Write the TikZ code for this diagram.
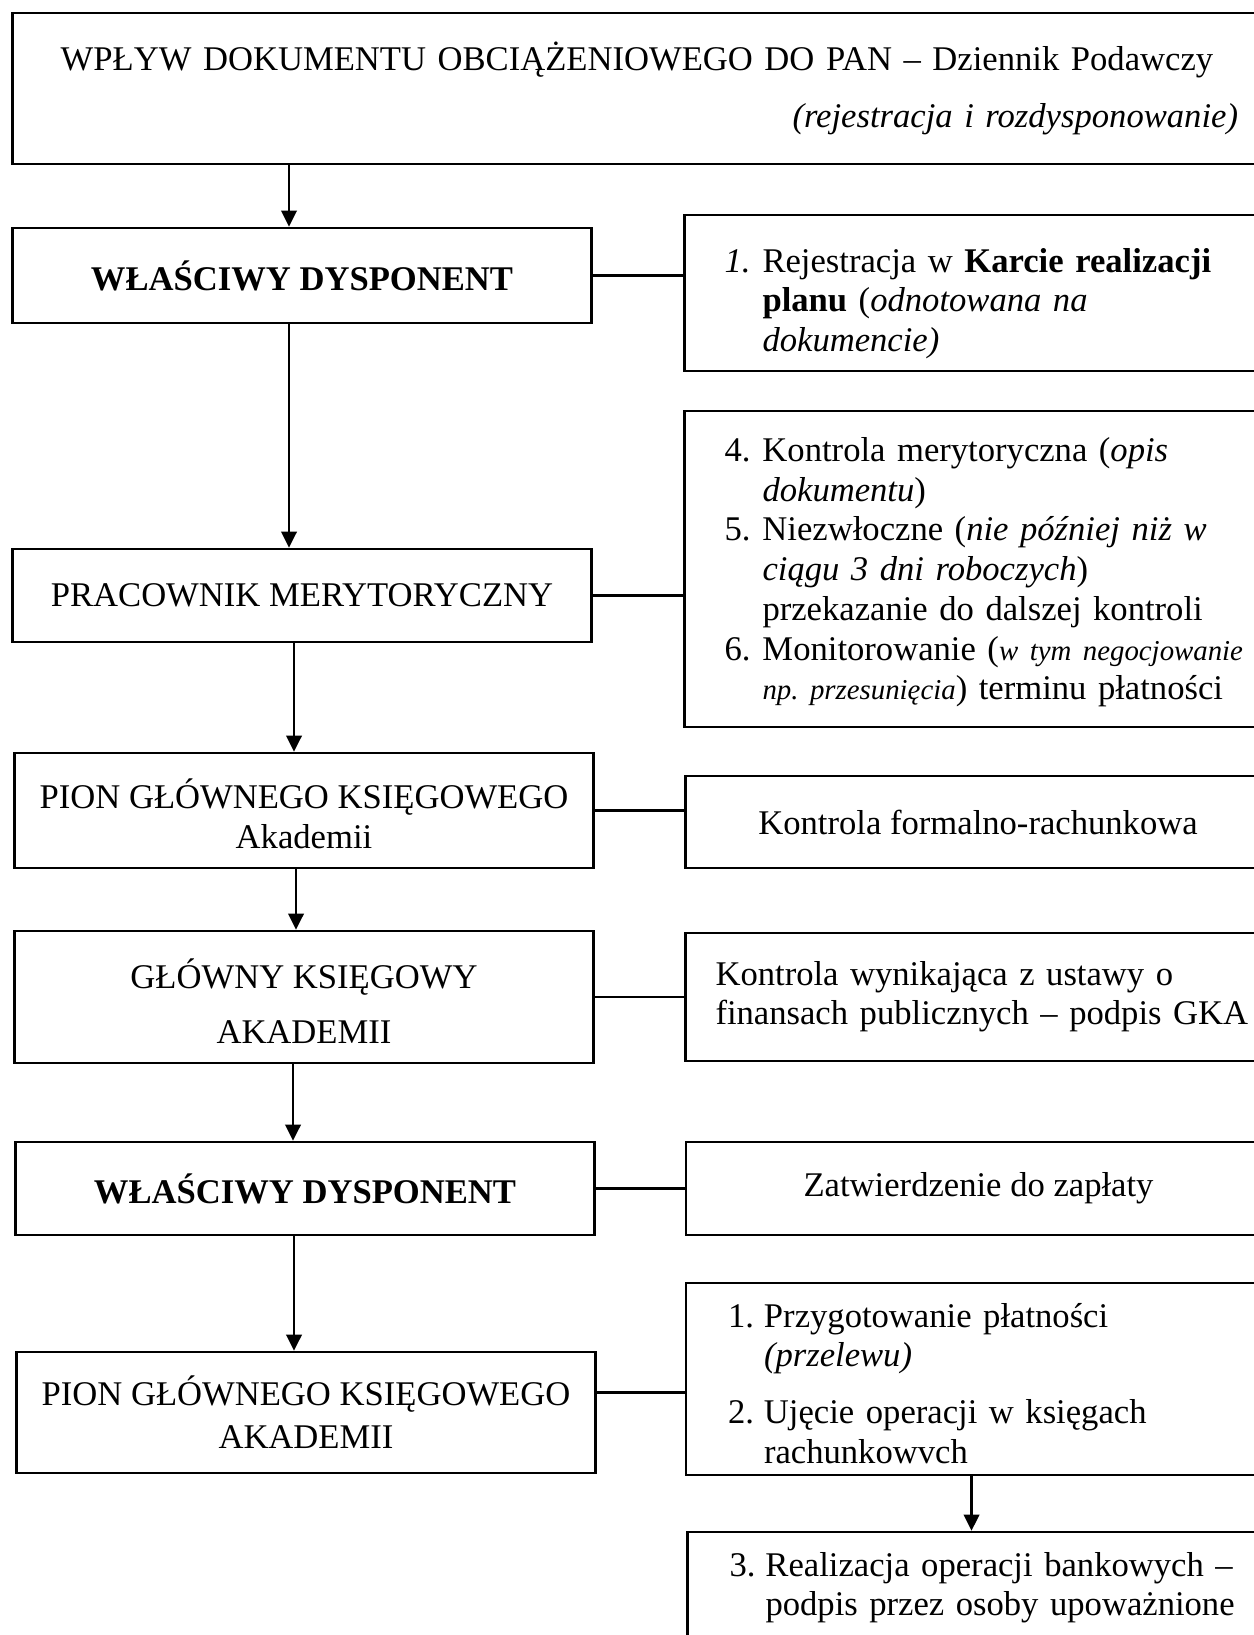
\documentclass[tikz,border=0pt]{standalone}
\usepackage{fontspec}
\setmainfont{Liberation Serif}
\usepackage{tikz}
\usetikzlibrary{calc, arrows.meta}
\tikzset{>={Triangle[length=4.6pt,width=4.4pt]}}
\frenchspacing

\begin{document}
\begin{tikzpicture}[line width=0.7pt,
    box/.style={draw, rectangle, inner sep=0pt, align=center, font=\fontsize{9.85}{11.3}\selectfont},
    lbox/.style={box, minimum width=5.79cm},
    rbox/.style={box, minimum width=5.85cm},
    rlist/.style={box, inner xsep=0.4cm, text width=5.05cm, align=left}]
    % Frame
    \useasboundingbox (0,0) rectangle (12.53,-16.35);

    % Coordinates
    \coordinate (T) at (6.37,-0.885);
    \coordinate (L1) at (3.02,-2.755);
    \coordinate (L2) at (3.02,-5.955);
    \coordinate (L3) at (3.04,-8.105);
    \coordinate (L4) at (3.04,-9.97);
    \coordinate (L5) at (3.05,-11.885);
    \coordinate (L6) at (3.06,-14.125);
    \coordinate (R1) at (9.77,-2.93);
    \coordinate (R2) at (9.77,-5.69);
    \coordinate (R3) at (9.78,-8.22);
    \coordinate (R4) at (9.78,-9.97);
    \coordinate (R5) at (9.785,-11.885);
    \coordinate (R6) at (9.785,-13.79);
    \coordinate (R7) at (9.80,-15.86);

    % Top box
    \node[box, minimum height=1.51cm, text width=12.02cm, inner xsep=0.235cm] (top) at (T)
        {WPŁYW DOKUMENTU OBCIĄŻENIOWEGO DO PAN – Dziennik Podawczy\\[5pt]
        \makebox[\linewidth][r]{\textit{(rejestracja i rozdysponowanie)}}};

    % Left column
    \node[lbox, minimum height=0.95cm] (disp1) at (L1) {\textbf{WŁAŚCIWY DYSPONENT}};
    \node[lbox, minimum height=0.93cm] (prac) at (L2) {PRACOWNIK MERYTORYCZNY};
    \node[lbox, minimum height=1.15cm] (pion1) at (L3) {\rule{0pt}{10.5pt}PION GŁÓWNEGO KSIĘGOWEGO\\Akademii};
    \node[lbox, minimum height=1.32cm] (gka) at (L4) {\rule{0pt}{11pt}GŁÓWNY KSIĘGOWY\\[4.4pt]AKADEMII};
    \node[lbox, minimum height=0.93cm] (disp2) at (L5) {\textbf{WŁAŚCIWY DYSPONENT}};
    \node[lbox, minimum height=1.21cm] (pion2) at (L6) {PION GŁÓWNEGO KSIĘGOWEGO\\[1pt]AKADEMII};

    % Right column
    \node[rlist, minimum height=1.56cm] (rej) at (R1)
        {\begin{tabular}{@{}p{0.38cm}@{}l@{}}
        \textit{1.}\rule{0pt}{14.2pt} & Rejestracja w \textbf{Karcie realizacji}\\
         & \textbf{planu} (\textit{odnotowana na}\\
         & \textit{dokumencie)}
        \end{tabular}};
    \node[rlist, minimum height=3.16cm] (kontr) at (R2)
        {\begin{tabular}{@{}p{0.38cm}@{}l@{}}
        4.\rule{0pt}{10pt} & Kontrola merytoryczna (\textit{opis}\\
         & \textit{dokumentu})\\
        5. & Niezwłoczne (\textit{nie później niż w}\\
         & \textit{ciągu 3 dni roboczych})\\
         & przekazanie do dalszej kontroli\\
        6. & Monitorowanie ({\fontsize{8.2}{11.3}\selectfont\itshape w tym negocjowanie}\\
         & {\fontsize{8.2}{11.3}\selectfont\itshape np. przesunięcia}) terminu płatności
        \end{tabular}};
    \node[rbox, minimum height=0.92cm] (form) at (R3) {Kontrola formalno-rachunkowa};
    \node[rlist, inner xsep=0.3cm, text width=5.25cm, minimum height=1.28cm] (ustawa) at (R4)
        {\begin{tabular}{@{}l@{}}
        Kontrola wynikająca z ustawy o\\
        finansach publicznych – podpis GKA
        \end{tabular}};
    \node[rbox, minimum height=0.93cm] (zatw) at (R5) {Zatwierdzenie do zapłaty};
    \node[rlist, inner xsep=0.42cm, text width=5.01cm, minimum height=1.88cm] (plat) at (R6)
        {\begin{tabular}{@{}p{0.36cm}@{}l@{}}
        1.\rule{0pt}{12.6pt} & Przygotowanie płatności\\
         & \textit{(przelewu)}\\[4.8pt]
        2. & Ujęcie operacji w księgach\\
         & rachunkowvch
        \end{tabular}};
    \node[rlist, inner xsep=0.42cm, text width=5.01cm, minimum height=1.08cm] (bank) at (R7)
        {\begin{tabular}{@{}p{0.36cm}@{}l@{}}
        3.\rule{0pt}{9pt} & Realizacja operacji bankowych –\\
         & podpis przez osoby upoważnione
        \end{tabular}};

    % Arrows
    \draw[->] ([xshift=-0.13cm]top.south -| disp1) -- ([xshift=-0.13cm]disp1.north);
    \draw[->] ([xshift=-0.13cm]disp1.south) -- ([xshift=-0.13cm]prac.north);
    \draw[->] ([xshift=-0.08cm]prac.south) -- ([xshift=-0.08cm]pion1.north -| prac);
    \draw[->] ([xshift=-0.08cm]pion1.south) -- ([xshift=-0.08cm]gka.north);
    \draw[->] ([xshift=-0.11cm]gka.south) -- ([xshift=-0.11cm]disp2.north -| gka);
    \draw[->] ([xshift=-0.11cm]disp2.south) -- ([xshift=-0.11cm]pion2.north -| disp2);
    \draw[->] ([xshift=-0.07cm]plat.south) -- ([xshift=-0.07cm]bank.north -| plat);

    % Lines
    \draw (disp1.east) -- (disp1.east -| rej.west);
    \draw (prac.east) -- (prac.east -| kontr.west);
    \draw (pion1.east) -- (pion1.east -| form.west);
    \draw (gka.east) -- (gka.east -| ustawa.west);
    \draw (disp2.east) -- (disp2.east -| zatw.west);
    \draw ([yshift=0.2cm]pion2.east) -- ([yshift=0.2cm]pion2.east -| plat.west);
\end{tikzpicture}
\end{document}
